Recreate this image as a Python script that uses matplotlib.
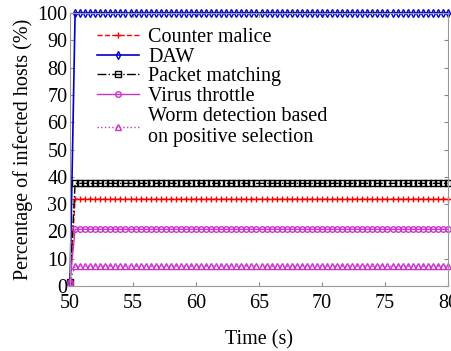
import numpy as np
import matplotlib.pyplot as plt

plt.rcParams['font.family'] = ['Liberation Serif', 'DejaVu Serif']

# sample times, 0.4 s apart
time = np.round(np.arange(50, 80.01, 0.4), 1)

start = 1.5
counter_malice = [start] + [31.8] * (len(time) - 1)
daw = [start] + [100.0] * (len(time) - 1)
packet_matching = [start] + [37.6] * (len(time) - 1)
virus_throttle = [start] + [20.8] * (len(time) - 1)
positive_selection = [start] + [7.3] * (len(time) - 1)

fig = plt.figure(figsize=(4.52, 3.51), dpi=100)
ax = fig.add_axes([0.155, 0.185, 0.836, 0.778])

ax.plot(time, counter_malice, color='#ff0000', ls='--', marker='+', ms=5, lw=1,
        label='Counter malice', clip_on=False)
ax.plot(time, daw, color='#0000cc', ls='-', marker='d', ms=4, mfc='none', lw=1.2,
        label='DAW', clip_on=False)
ax.plot(time, packet_matching, color='black', ls='-.', marker='s', ms=4, mfc='none', lw=1,
        label='Packet matching', clip_on=False)
ax.plot(time, virus_throttle, color='#cc33cc', ls='-', marker='o', ms=4, mfc='none', lw=1,
        label='Virus throttle', clip_on=False)
ax.plot(time, positive_selection, color='#cc33cc', ls=':', marker='^', ms=4, mfc='none', lw=1,
        label='Worm detection based\non positive selection', clip_on=False)

ax.set_xlim(50, 80)
ax.set_ylim(0, 100)
ax.set_xticks(range(50, 81, 5))
ax.set_yticks(range(0, 101, 10))
ax.tick_params(direction='in', top=True, right=True, labelsize=14.5, length=3,
               color='#888888', pad=2)
ax.tick_params(axis='x', pad=6)
for s in ax.spines.values():
    s.set_color('#999999')

ax.set_xlabel('Time (s)', fontsize=14.5, labelpad=12)
ax.set_ylabel('Percentage of infected hosts (%)', fontsize=14.5, labelpad=3)

ax.legend(loc='upper left', bbox_to_anchor=(0.05, 0.975), frameon=False, fontsize=14.5,
          handlelength=2.1, handletextpad=0.45, labelspacing=0.03, borderaxespad=0)

fig.savefig('out.png', dpi=100)
